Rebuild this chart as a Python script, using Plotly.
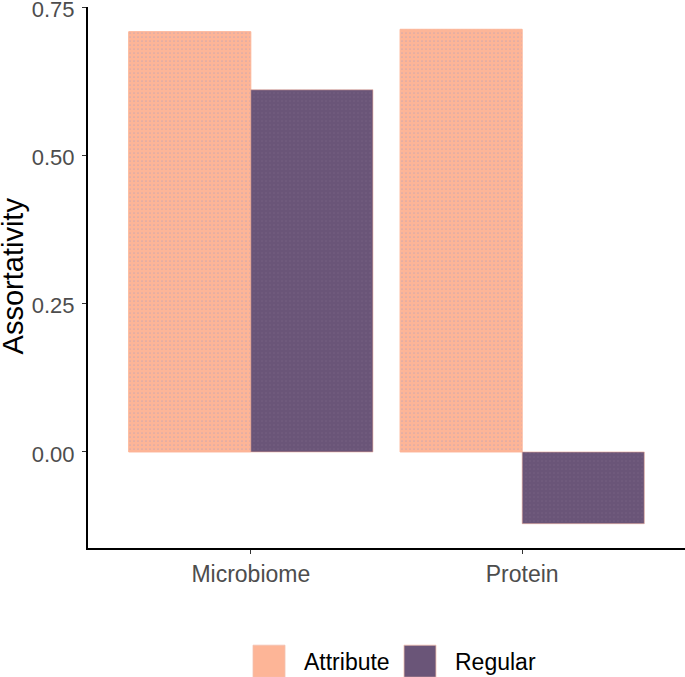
import plotly.graph_objects as go

categories = ["Microbiome", "Protein"]
attribute = [0.709, 0.713]
regular = [0.611, -0.121]
tick_vals = [0.0, 0.25, 0.5, 0.75]
tick_text = ["0.00", "0.25", "0.50", "0.75"]
series_names = ["Attribute", "Regular"]
series_colors = ["#FDB597", "#6A5578"]
y_title = "Assortativity"

fig = go.Figure()
fig.add_trace(go.Bar(
    x=categories, y=attribute, name=series_names[0],
    marker=dict(color=series_colors[0], line=dict(color=series_colors[0], width=1),
                pattern=dict(shape=".", fgcolor="#A79CC0", size=4, solidity=0.15)),
))
fig.add_trace(go.Bar(
    x=categories, y=regular, name=series_names[1],
    marker=dict(color=series_colors[1], line=dict(color="#E8A898", width=0.6),
                pattern=dict(shape=".", fgcolor="#7C6688", size=4, solidity=0.15)),
))

# legend drawn at the bottom (large keys like ggplot)
key_x = [(0.2764, 0.33), (0.5293, 0.5829)]
text_x = [0.3585, 0.6114]
for i in range(2):
    fig.add_shape(type="rect", xref="paper", yref="paper",
                  x0=key_x[i][0], x1=key_x[i][1], y0=-0.2389, y1=-0.1796,
                  fillcolor=series_colors[i], line=dict(color="#F3C2B0", width=0.8))
    fig.add_annotation(xref="paper", yref="paper", x=text_x[i], y=-0.2111,
                       text=series_names[i], showarrow=False, xanchor="left", yanchor="middle",
                       font=dict(size=23, color="black"))

# y-axis title
fig.add_annotation(xref="paper", yref="paper", x=-0.1256, y=0.502, text=y_title,
                   textangle=-90, showarrow=False, xanchor="center", yanchor="middle",
                   font=dict(size=29, color="black"))

fig.update_layout(
    width=685, height=677,
    barmode="group", bargap=0.1, bargroupgap=0,
    plot_bgcolor="white", paper_bgcolor="white",
    margin=dict(l=88, r=0, t=7, b=129, autoexpand=False),
    showlegend=False,
    font=dict(family="Liberation Sans, Arial, sans-serif", color="#4d4d4d"),
    xaxis=dict(range=[-0.6, 1.6], showline=True, linecolor="black", linewidth=2,
               ticks="outside", ticklen=4, tickcolor="#333333", automargin=False,
               tickfont=dict(size=23, color="#4d4d4d"), showgrid=False, zeroline=False),
    yaxis=dict(range=[-0.162, 0.7506], tickvals=tick_vals, ticktext=tick_text,
               showline=True, linecolor="black", linewidth=2, automargin=False,
               ticks="outside", ticklen=4, tickcolor="#333333", ticklabeloverflow="allow",
               ticklabelstandoff=3, ticklabelshift=2,
               tickfont=dict(size=22, color="#4d4d4d"), showgrid=False, zeroline=False),
)

fig.write_html("out.html", config={"displayModeBar": False},
               post_script="document.body.style.margin='0';document.body.style.overflow='hidden';")
